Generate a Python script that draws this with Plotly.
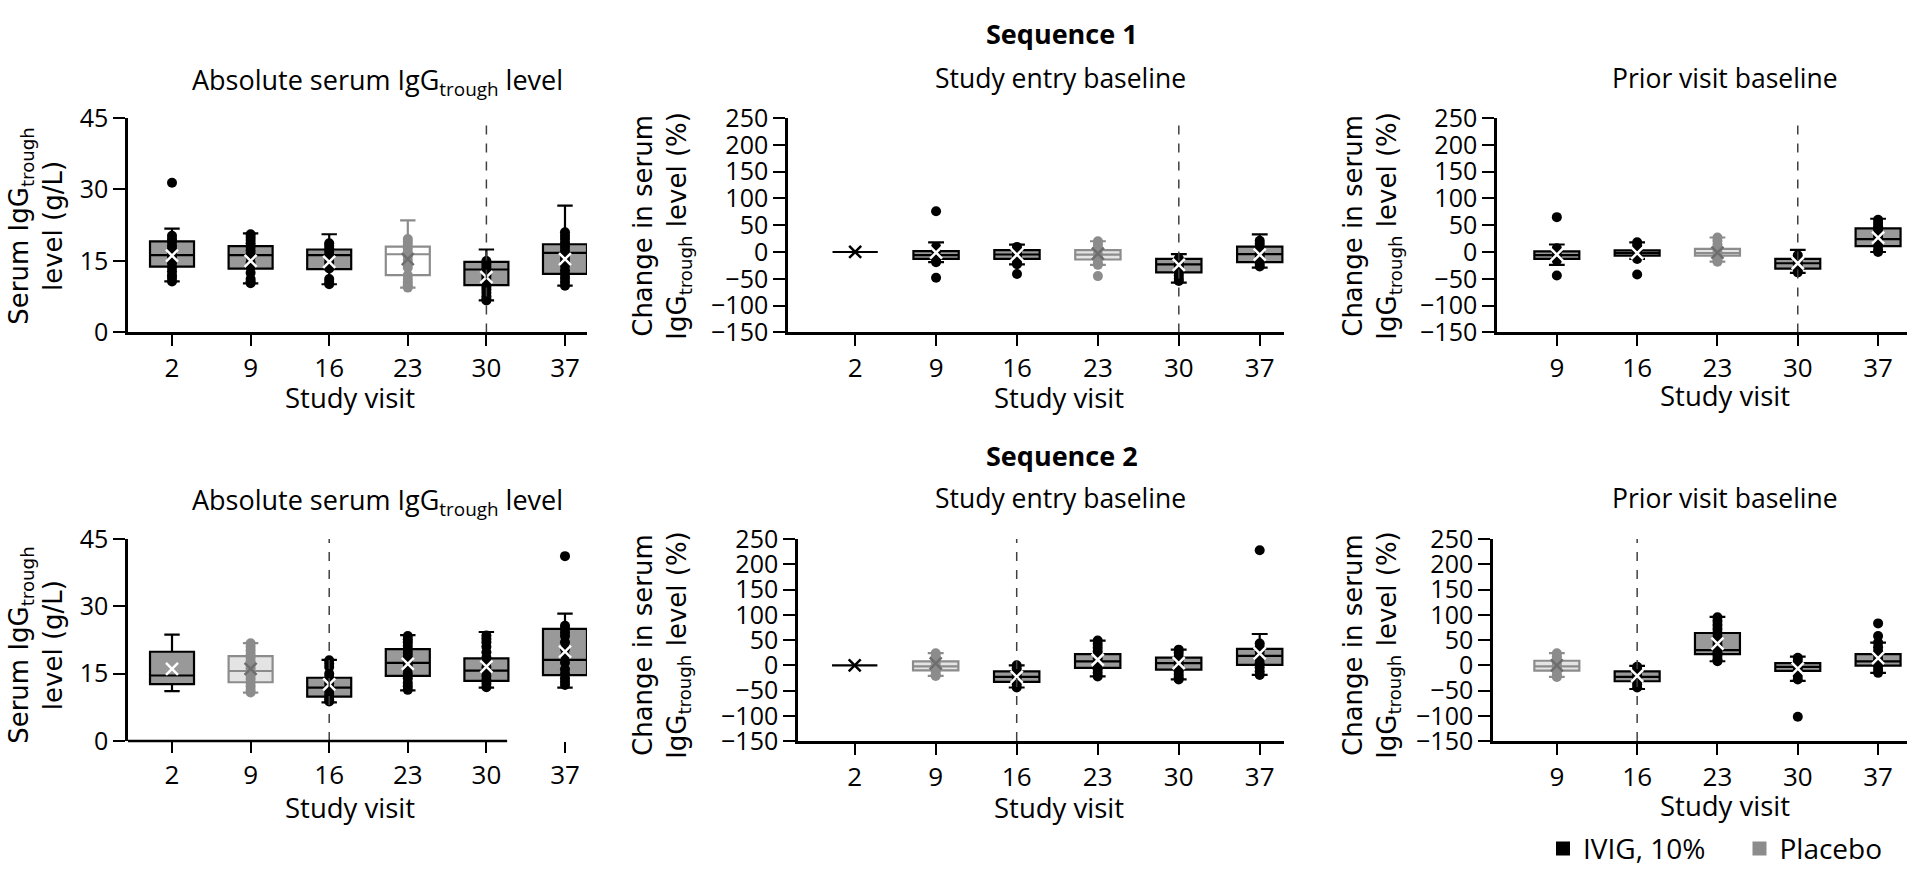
import plotly.graph_objects as go
from plotly.subplots import make_subplots

# ---- data ----
# Sequence 1, absolute serum IgG trough level (g/L)
s1_abs_visits = [2, 9, 16, 23, 30, 37]
s1_abs_arm = ["IVIG", "IVIG", "IVIG", "Placebo", "IVIG", "IVIG"]
s1_abs_q1 = [13.8, 13.4, 13.3, 12.0, 9.9, 12.3]
s1_abs_med = [16.2, 16.2, 16.2, 16.4, 13.2, 16.7]
s1_abs_q3 = [19.1, 18.1, 17.4, 18.0, 14.8, 18.5]
s1_abs_lo = [10.7, 10.3, 10.1, 9.4, 6.7, 9.8]
s1_abs_hi = [21.8, 20.8, 20.6, 23.5, 17.4, 26.6]
s1_abs_mean = [16.1, 15.0, 14.8, 15.4, 11.6, 15.4]
s1_abs_pts = [
    [31.4, 20.3, 19.6, 19.0, 18.2, 17.5, 16.8, 16.0, 15.2, 14.5, 13.6, 12.8, 12.0, 11.4, 10.7],
    [20.6, 20.0, 19.4, 18.7, 18.0, 17.2, 16.5, 15.8, 14.6, 13.8, 12.5, 11.2, 10.7, 10.3],
    [18.7, 18.2, 17.6, 17.0, 16.3, 15.5, 14.7, 14.0, 13.4, 11.2, 10.6, 10.1],
    [19.6, 19.0, 18.4, 17.6, 16.8, 16.0, 15.2, 14.4, 13.6, 12.0, 11.2, 10.5, 9.9, 9.4],
    [15.0, 14.4, 13.8, 13.2, 12.6, 12.0, 11.4, 10.8, 10.2, 9.6, 9.0, 8.3, 7.6, 7.0, 6.7],
    [21.0, 20.3, 19.6, 18.8, 18.0, 17.2, 16.4, 15.6, 14.8, 14.0, 13.0, 12.2, 11.4, 10.6, 9.8],
]

# Sequence 1, change from study entry baseline (%)
s1_ent_visits = [2, 9, 16, 23, 30, 37]
s1_ent_arm = ["Baseline", "IVIG", "IVIG", "Placebo", "IVIG", "IVIG"]
s1_ent_q1 = [0, -13, -13, -14, -38, -19]
s1_ent_med = [0, -6, -4.7, -5, -23, -4]
s1_ent_q3 = [0, 1.8, 3.6, 3.5, -13, 10]
s1_ent_lo = [0, -19, -23, -24, -57, -29]
s1_ent_hi = [0, 18, 13.6, 20, -4, 33]
s1_ent_mean = [0, -1, -5, -3, -24, -5]
s1_ent_pts = [
    [],
    [76, 9.5, 2, -8, -14, -19, -48],
    [9.5, 4, -2, -8, -14, -20, -23, -41],
    [20, 14, 8, -4, -12, -20, -24, -45],
    [-12, -17, -22, -27, -32, -38, -44, -50, -54],
    [21, 15, 8, 0, -8, -15, -22, -27],
]

# Sequence 1, change from prior visit baseline (%)
s1_pri_visits = [9, 16, 23, 30, 37]
s1_pri_arm = ["IVIG", "IVIG", "Placebo", "IVIG", "IVIG"]
s1_pri_q1 = [-13, -7, -7, -31, 11]
s1_pri_med = [-6, -2, -2, -21, 24]
s1_pri_q3 = [1, 3, 6, -13, 44]
s1_pri_lo = [-24, -13, -18, -39, 0]
s1_pri_hi = [14, 18, 27, 4, 62]
s1_pri_mean = [-5, -2, -1, -21, 27]
s1_pri_pts = [
    [65, 7, 0, -8, -16, -44],
    [18, 12, 6, 0, -6, -13, -42],
    [27, 21, 14, 7, 0, -7, -13, -18],
    [-6, -12, -18, -24, -30, -35, -38],
    [60, 54, 48, 42, 36, 30, 24, 18, 12, 4, 0],
]

# Sequence 2, absolute serum IgG trough level (g/L)
s2_abs_visits = [2, 9, 16, 23, 30, 37]
s2_abs_arm = ["IVIG", "Placebo", "IVIG", "IVIG", "IVIG", "IVIG"]
s2_abs_q1 = [12.7, 13.1, 9.9, 14.5, 13.4, 14.7]
s2_abs_med = [14.6, 15.6, 11.9, 17.4, 15.7, 18.1]
s2_abs_q3 = [19.9, 18.9, 14.1, 20.5, 18.4, 25.0]
s2_abs_lo = [11.1, 10.8, 8.6, 11.3, 11.9, 11.9]
s2_abs_hi = [23.7, 21.8, 18.1, 23.6, 24.3, 28.4]
s2_abs_mean = [16.1, 16.1, 12.6, 17.2, 16.6, 19.9]
s2_abs_pts = [
    [],
    [21.8, 21.0, 20.2, 19.4, 18.6, 17.8, 17.0, 16.2, 15.4, 14.6, 13.8, 13.0, 12.2, 11.4, 10.8],
    [18.0, 17.3, 16.5, 15.0, 14.2, 13.5, 12.8, 12.0, 11.2, 10.5, 9.8, 9.2, 8.8],
    [23.4, 22.7, 22.0, 21.2, 20.4, 19.6, 18.8, 18.0, 17.0, 16.0, 15.0, 14.0, 13.0, 12.2, 11.4],
    [23.5, 22.8, 22.0, 21.0, 19.8, 18.6, 17.5, 16.4, 15.4, 14.5, 13.6, 12.8, 12.0],
    [41.2, 25.7, 25.0, 24.2, 23.4, 22.0, 20.5, 19.0, 17.5, 16.0, 15.0, 14.0, 13.2, 12.5],
]

# Sequence 2, change from study entry baseline (%)
s2_ent_visits = [2, 9, 16, 23, 30, 37]
s2_ent_arm = ["Baseline", "Placebo", "IVIG", "IVIG", "IVIG", "IVIG"]
s2_ent_q1 = [0, -10, -33, -5, -8.5, 1]
s2_ent_med = [0, -2, -23, 7.6, 4.4, 18.5]
s2_ent_q3 = [0, 7.6, -12, 22, 15.3, 32.6]
s2_ent_lo = [0, -21, -44, -22, -28, -19]
s2_ent_hi = [0, 24, 0, 49, 31, 62]
s2_ent_mean = [0, 4, -23, 11, 4.4, 23.6]
s2_ent_pts = [
    [],
    [24, 18, 12, 6, 0, -6, -12, -18, -21],
    [0, -6, -12, -18, -25, -32, -38, -44],
    [49, 42, 35, 28, 21, 14, 7, 0, -8, -15, -22],
    [31, 25, 18, 12, 6, 0, -6, -12, -18, -24, -28],
    [228, 43, 36, 28, 20, 12, 4, -4, -12, -19],
]

# Sequence 2, change from prior visit baseline (%)
s2_pri_visits = [9, 16, 23, 30, 37]
s2_pri_arm = ["Placebo", "IVIG", "IVIG", "IVIG", "IVIG"]
s2_pri_q1 = [-10.4, -31.6, 22, -11, -0.6]
s2_pri_med = [-2, -23, 30, -3, 7.6]
s2_pri_q3 = [9, -12, 64, 4.5, 22]
s2_pri_lo = [-23, -47, 8, -31, -15]
s2_pri_hi = [24, -1, 96, 17, 45]
s2_pri_mean = [0, -21, 43, -6.5, 14]
s2_pri_pts = [
    [24, 18, 12, 6, 0, -6, -12, -18, -23],
    [-3, -8, -14, -20, -26, -32, -38, -44],
    [95, 88, 80, 72, 64, 56, 48, 40, 33, 26, 19, 12, 8],
    [15, 9, 3, -3, -9, -15, -21, -28, -102],
    [83, 58, 45, 36, 28, 20, 12, 5, -2, -9, -15],
]

seq1_switch = 30
seq2_switch = 16

abs_ticks = [0, 15, 30, 45]
pct_ticks = [-150, -100, -50, 0, 50, 100, 150, 200, 250]

# ---- figure ----
W, H = 1908, 882
FONT = "Open Sans"
YFONT = "DejaVu Sans"

def px(x):
    return x / W

def py(y):
    return 1 - y / H

fig = make_subplots(rows=2, cols=3)

# panel geometry (pixels of the reference picture)
panels = [
    # row, col, visits, arm, q1, med, q3, lo, hi, mean, pts, switch, xpix, ypix, xrange, kind
    (1, 1, s1_abs_visits, s1_abs_arm, s1_abs_q1, s1_abs_med, s1_abs_q3, s1_abs_lo, s1_abs_hi,
     s1_abs_mean, s1_abs_pts, seq1_switch, (128, 587), (104, 327), [-0.56, 5.28], "abs"),
    (1, 2, s1_ent_visits, s1_ent_arm, s1_ent_q1, s1_ent_med, s1_ent_q3, s1_ent_lo, s1_ent_hi,
     s1_ent_mean, s1_ent_pts, seq1_switch, (788, 1284), (104, 327), [-0.83, 5.3], "pct"),
    (1, 3, s1_pri_visits, s1_pri_arm, s1_pri_q1, s1_pri_med, s1_pri_q3, s1_pri_lo, s1_pri_hi,
     s1_pri_mean, s1_pri_pts, seq1_switch, (1497, 1907), (104, 327), [-0.745, 4.36], "pct"),
    (2, 1, s2_abs_visits, s2_abs_arm, s2_abs_q1, s2_abs_med, s2_abs_q3, s2_abs_lo, s2_abs_hi,
     s2_abs_mean, s2_abs_pts, seq2_switch, (128, 587), (542, 752), [-0.56, 5.28], "abs"),
    (2, 2, s2_ent_visits, s2_ent_arm, s2_ent_q1, s2_ent_med, s2_ent_q3, s2_ent_lo, s2_ent_hi,
     s2_ent_mean, s2_ent_pts, seq2_switch, (798, 1284), (542, 752), [-0.7, 5.3], "pct"),
    (2, 3, s2_pri_visits, s2_pri_arm, s2_pri_q1, s2_pri_med, s2_pri_q3, s2_pri_lo, s2_pri_hi,
     s2_pri_mean, s2_pri_pts, seq2_switch, (1493, 1907), (542, 752), [-0.795, 4.36], "pct"),
]

IVIG_FILL = "#999999"
PLAC_FILL = "#e4e4e4"
PLAC_GRAY = "#8c8c8c"

for n, (r, c, visits, arm, q1, med, q3, lo, hi, mean, pts, switch, xpix, ypix, xr, kind) in enumerate(panels):
    xs = list(range(len(visits)))
    for i in xs:
        a = arm[i]
        if a == "Placebo":
            fill = "white" if (r, c) == (1, 1) else PLAC_FILL
            line_c, pt_c, mean_c = PLAC_GRAY, PLAC_GRAY, "#6e6e6e"
        elif a == "Baseline":
            fill, line_c, pt_c, mean_c = "white", "black", "black", "black"
        else:
            fill, line_c, pt_c, mean_c = IVIG_FILL, "black", "black", "white"
        fig.add_trace(go.Box(
            x=[i], q1=[q1[i]], median=[med[i]], q3=[q3[i]],
            lowerfence=[lo[i]], upperfence=[hi[i]],
            width=0.56, whiskerwidth=0.35, fillcolor=fill,
            line=dict(color=line_c, width=2.2), boxpoints=False,
            hoverinfo="skip", showlegend=False), row=r, col=c)
        if pts[i]:
            fig.add_trace(go.Scatter(
                x=[i] * len(pts[i]), y=pts[i], mode="markers",
                marker=dict(color=pt_c, size=10), hoverinfo="skip",
                showlegend=False), row=r, col=c)
        fig.add_trace(go.Scatter(
            x=[i], y=[mean[i]], mode="markers",
            marker=dict(symbol="x-thin", size=12, line=dict(color=mean_c, width=2.5)),
            hoverinfo="skip", showlegend=False), row=r, col=c)

    ax = "" if n == 0 else str(n + 1)
    yr = [0, 45] if kind == "abs" else [-150, 250]
    fig.update_xaxes(
        domain=[px(xpix[0]), px(xpix[1])], range=xr,
        tickvals=xs, ticktext=[str(v) for v in visits],
        showline=not (r == 2 and c == 1), linecolor="black", linewidth=2.5,
        ticks="outside", ticklen=11, tickwidth=2, tickcolor="black",
        showgrid=False, zeroline=False,
        tickfont=dict(family=FONT, size=26, color="black"),
        row=r, col=c)
    fig.update_yaxes(
        domain=[py(ypix[1]), py(ypix[0])], range=yr,
        tickvals=abs_ticks if kind == "abs" else pct_ticks,
        showline=True, linecolor="black", linewidth=2.5,
        ticks="outside", ticklen=12, tickwidth=2, tickcolor="black",
        showgrid=False, zeroline=False,
        tickfont=dict(family=FONT, size=25, color="black"),
        row=r, col=c)

    # dashed crossover line
    sx = visits.index(switch)
    fig.add_shape(type="line", xref="x" + ax, yref="y" + ax,
                  x0=sx, x1=sx, y0=yr[0], y1=yr[1],
                  line=dict(color="#404040", width=1.5, dash="dash"))

# bottom-left x axis line stops short of the last visit
fig.add_shape(type="line", xref="x4 domain", yref="y4 domain",
              x0=0, x1=0.826, y0=0, y1=0, line=dict(color="black", width=2.5))

# legend entries
fig.add_trace(go.Scatter(x=[None], y=[None], mode="markers", name="IVIG, 10%\u00a0\u00a0\u00a0\u00a0",
                         marker=dict(symbol="square", size=14, color="black")), row=2, col=3)
fig.add_trace(go.Scatter(x=[None], y=[None], mode="markers", name="Placebo",
                         marker=dict(symbol="square", size=14, color=PLAC_GRAY)), row=2, col=3)

# texts
def note(text, x, y, size=26.5, bold=False, angle=0, family=FONT):
    if bold:
        text = "<b>" + text + "</b>"
    fig.add_annotation(text=text, x=px(x), y=py(y), xref="paper", yref="paper",
                       showarrow=False, xanchor="center", yanchor="middle",
                       textangle=angle, font=dict(family=family, size=size, color="black"))

abs_title = "Absolute serum IgG<sub>trough</sub> level"
note("Sequence 1", 1062, 16, size=27, bold=True)
note("Sequence 2", 1062, 455, size=27, bold=True)
for yy in (66, 503):
    note(abs_title, 377, yy, size=27)
    note("Study entry baseline", 1060, yy - 4)
    note("Prior visit baseline", 1725, yy - 4)
for yy in (395, 821):
    note("Study visit", 350, yy, size=27.5)
    note("Study visit", 1059, yy, size=27.5)
    note("Study visit", 1725, yy - 2, size=27.5)

abs_ytitle = "Serum IgG<sub>trough</sub><br>level (g/L)"
pct_ytitle = "Change in serum<br>IgG<sub>trough</sub> level (%)"
for yy in (216, 652):
    note(abs_ytitle, 36, yy, size=26, angle=-90, family=YFONT)
    note(pct_ytitle, 662, yy, size=26, angle=-90, family=YFONT)
    note(pct_ytitle, 1372, yy, size=26, angle=-90, family=YFONT)

fig.update_layout(
    width=W, height=H,
    margin=dict(l=0, r=0, t=0, b=0),
    paper_bgcolor="white", plot_bgcolor="white",
    font=dict(family=FONT, color="black"),
    showlegend=True,
    legend=dict(orientation="h", x=px(1888), xanchor="right", y=py(864), yanchor="middle",
                font=dict(family=FONT, size=28, color="black"),
                bgcolor="rgba(0,0,0,0)", itemwidth=30, tracegroupgap=0),
)

# page body has an 8px default margin; drop it so the figure fills the window exactly
fig.write_html("out.html", config={"displayModeBar": False},
               post_script="document.body.style.margin='0';document.body.style.overflow='hidden';")
